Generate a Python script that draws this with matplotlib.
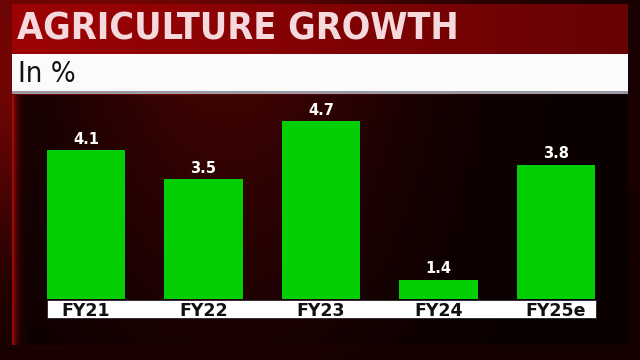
import matplotlib
matplotlib.use("Agg")
import matplotlib.pyplot as plt
import numpy as np
from matplotlib import font_manager
from matplotlib.patches import Rectangle

categories = ["FY21", "FY22", "FY23", "FY24", "FY25e"]
growth = [4.1, 3.5, 4.7, 1.4, 3.8]
title = "AGRICULTURE GROWTH"
subtitle = "In %"

W, H = 640, 360
fig = plt.figure(figsize=(6.4, 3.6), dpi=100)

# look for a condensed face among installed fonts
narrow = [f for f in font_manager.fontManager.ttflist
          if f.stretch in ("condensed", "semi-condensed", "extra-condensed")
          or "Narrow" in f.name or "Condensed" in f.name]
if narrow:
    head_font = dict(family=narrow[0].name, fontstretch=narrow[0].stretch)
    title_size, sub_size = 27, 21
else:
    head_font = dict(family="DejaVu Sans")
    title_size, sub_size = 24, 19


def px_box(x0, y0, x1, y1):
    # pixel box (top-left origin) -> figure fraction rect
    return [x0 / W, 1 - y1 / H, (x1 - x0) / W, (y1 - y0) / H]


# background: dark maroon with redder top-left
bg = fig.add_axes([0, 0, 1, 1], zorder=0)
yy, xx = np.mgrid[0:1:200j, 0:1:360j]
glow = np.exp(-((xx - 0.15) ** 2 + (yy - 0.15) ** 2) / 0.25)
shade = 0.08 + 0.40 * glow
bg.imshow(np.dstack([shade, shade * 0.05, shade * 0.04]), aspect="auto",
          extent=[0, 1, 0, 1], origin="upper")
bg.set_axis_off()

# chart panel
panel = fig.add_axes(px_box(12, 95, 628, 345), zorder=1)
py, px = np.mgrid[0:1:100j, 0:1:300j]
red = 0.20 * np.exp(-((px - 0.35) ** 2) / 0.08) * (1 - py * 0.7) + 0.04
edge = 0.55 * np.exp(-px / 0.006)
r = np.clip(red + edge, 0, 1)
panel.imshow(np.dstack([r, r * 0.06, r * 0.05]), aspect="auto",
             extent=[0, 1, 0, 1], origin="upper")
panel.set_axis_off()

# title band
band = fig.add_axes(px_box(12, 4, 628, 54), zorder=2)
tx = np.linspace(0, 1, 300)
tr = 0.62 - 0.22 * tx
band.imshow(np.dstack([tr, tr * 0.02, tr * 0.03]), aspect="auto",
            extent=[0, 1, 0, 1])
band.set_axis_off()
fig.text(17 / W, 1 - 30 / H, title, fontsize=title_size, fontweight="bold",
         color="#f6d9dc", va="center", ha="left", zorder=5, **head_font)

# subtitle bar
fig.patches.append(Rectangle((12 / W, 1 - 93 / H), 616 / W, 39 / H,
                             transform=fig.transFigure, facecolor="#fbfbfb",
                             edgecolor="none", zorder=2))
fig.patches.append(Rectangle((12 / W, 1 - 94 / H), 616 / W, 3 / H,
                             transform=fig.transFigure, facecolor="#9a9aa4",
                             edgecolor="none", zorder=2))
fig.text(18 / W, 1 - 74 / H, subtitle, fontsize=sub_size, color="#111111",
         va="center", ha="left", zorder=5, **head_font)

# bars: baseline of the value axis starts at 1.0
ax = fig.add_axes(px_box(27.25, 100, 614.75, 299), zorder=3)
ax.set_facecolor("none")
x = np.arange(len(categories))
ax.bar(x, growth, width=0.664, bottom=0, color="#04cf04", edgecolor="none")
ax.set_xlim(-0.5, len(categories) - 0.5)
ax.set_ylim(1.0, 1.0 + 199 / 48)
for xi, v in zip(x, growth):
    ax.annotate(f"{v}", (xi, v), xytext=(0, 2.5), textcoords="offset points",
                ha="center", va="bottom", fontsize=10.5, fontweight="bold",
                color="white")
ax.set_axis_off()

# category label strip
fig.patches.append(Rectangle((47 / W, 1 - 318 / H), 549 / W, 18 / H,
                             transform=fig.transFigure, facecolor="white",
                             edgecolor="#222222", linewidth=0.6, zorder=4))
for xi, c in zip(x, categories):
    xf = ax.transData.transform((xi, 0))[0]
    fig.text(xf / (fig.dpi * 6.4), 1 - 315.5 / H, c, fontsize=12.5,
             fontweight="bold", color="#111111", ha="center", va="baseline",
             zorder=6)

fig.savefig("out.png", dpi=100)
